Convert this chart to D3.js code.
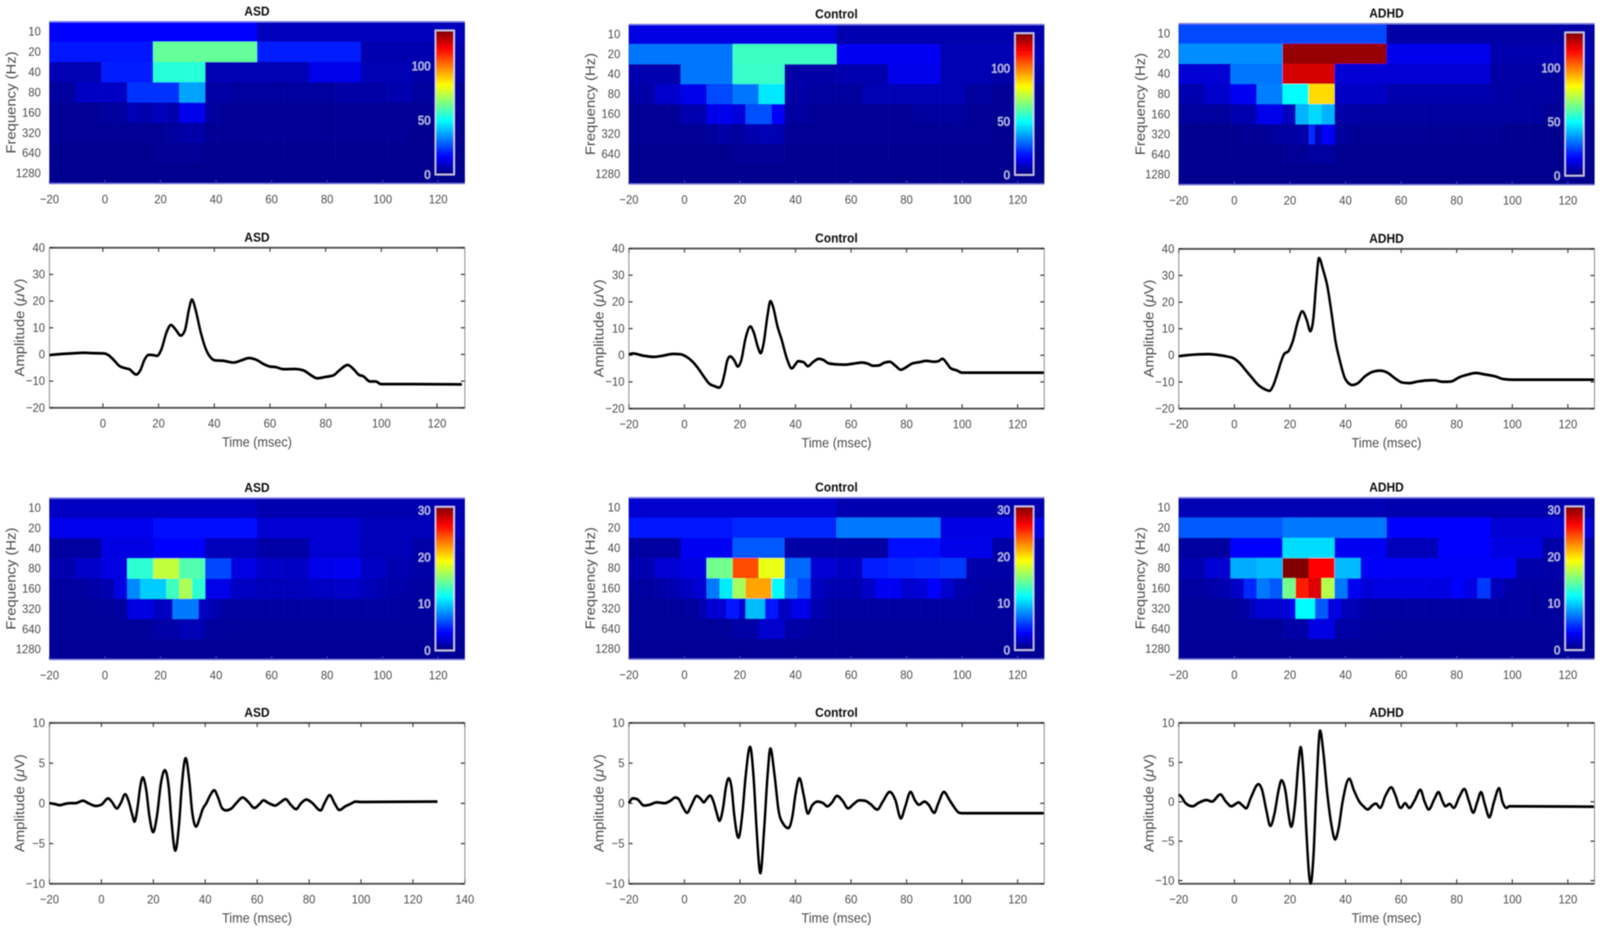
<!DOCTYPE html>
<html><head><meta charset="utf-8">
<script src="https://cdnjs.cloudflare.com/ajax/libs/d3/7.8.5/d3.min.js"></script>
<style>
html,body{margin:0;padding:0;background:#fff;overflow:hidden;width:100%;height:100%}
svg{display:block;width:100vw;height:100vh}
text{font-family:"Liberation Sans",Arial,sans-serif}
</style></head><body>
<svg id="c" viewBox="0 0 4545 2387" preserveAspectRatio="none"><defs><filter id="soft" x="-5%" y="-10%" width="110%" height="120%"><feGaussianBlur stdDeviation="1.6"/></filter></defs></svg>
<script>
// ---------- labels and ticks ----------
const groups = ["ASD","Control","ADHD"];
const freqLabels = ["10","20","40","80","160","320","640","1280"];
const timeTicks = [-20,0,20,40,60,80,100,120];
const timeTicks140 = [-20,0,20,40,60,80,100,120,140];
const timeTicksNoFirst = [0,20,40,60,80,100,120];
const ampTicksTop = [-20,-10,0,10,20,30,40];
const ampTicksBottom = [-10,-5,0,5,10];
const cbTicksTop = [0,50,100];
const cbTicksBottom = [0,10,20,30];
const cbMaxTop = 133;
const cbMaxBottom = 30.8;

// ---------- scalogram power, one list per frequency row (row length = time resolution) ----------
const heatASDTop = [
 [17,8],
 [19,63,20,6],
 [7,20,55,7,7,14,7,5],
 [4,9,9,23,23,38,5,4, 4,4,4,5,5,6,4,3],
 [3,3,3,3,4,4,7,6, 8,6,14,14,4,3,3,3, 3,3,3,3,3,3,3,3, 3,3,3,3,3,3,3,3],
 [3,3,3,3,3,3,3,3, 3,4,5,5,3,3,3,3, 3,3,3,3,3,3,3,3, 3,3,3,3,2,2,2,2],
 [2,2,2,2,3,3,2,2, 2,2,2,2,2,2,2,2],
 [2,2,2,2]
];
const heatControlTop = [
 [13,6],
 [32,58,15,7],
 [6,32,57,5,6,14,7,5],
 [5,10,14,26,32,47,5,4, 4,7,7,7,7,4,3,3],
 [3,3,3,3,6,6,14,14, 12,27,27,16,4,4,3,3, 3,3,3,3,3,3,4,4, 4,4,3,3,3,3,3,3],
 [3,3,3,3,3,3,4,5, 4,6,7,6,3,3,3,3, 3,3,3,3,3,3,3,3, 3,3,3,3,2,2,2,2],
 [2,2,2,2,3,3,2,2, 2,2,2,2,2,2,2,2],
 [2,2,2,2]
];
const heatADHDTop = [
 [26,5],
 [35,130,14,6],
 [11,32,122,11,11,11,5,4],
 [6,10,15,33,50,88,9,9, 6,6,6,6,5,4,4,4],
 [4,4,4,4,6,6,14,14, 8,40,45,40,5,5,4,4, 4,4,4,4,4,4,4,4, 4,4,4,4,3,3,3,3],
 [2,2,2,2,2,2,2,2, 2,3,3,3,3,3,4,4, 4,4,5,5,22,7,16,16, 4,4,3,3,3,3,3,3,
  3,3,3,3,3,3,3,3, 3,3,3,3,3,3,3,3, 3,3,2,2,2,2,2,2, 2,2,2,2,2,2,2,2],
 [2,2,2,2,3,4,2,2, 2,2,2,2,2,2,2,2],
 [2,2,2,2]
];
const heatASDBottom = [
 [2,1.5],
 [3.3,4.2,2.5,1.8],
 [1,3,4,1.8,1.2,2.5,1.7,1.2],
 [1.5,2.2,3,12.9,17.4,14,6,3, 2.2,2,3.2,3.5,2,1.5,1.2,1.1],
 [1,1,1,1.2,1.5,3,8,10, 10,13.5,16.7,12.9,3.2,3.2,2,2, 1.7,1.7,1.7,1.7,2,2,2.2,2.2, 1.8,1.5,1.3,1.2,1,1,1,1],
 [.8,.8,.8,.8,.8,.8,.8,.8, .9,.9,1,1,3,3,3,3, 2,2,2,7.5,7.5,7.5,7.5,2, 1.8,1.5,1.2,1,1,1,1,1,
  1,1,1,1,1,1,1,1, 1,1,1,1,1,1,1,1, 1,1,1,1,1,1,.9,.9, .9,.9,.8,.8,.8,.8,.8,.8],
 [.8,.8,.8,.8,1.2,1.6,.9,.8, .8,.8,.8,.8,.8,.8,.8,.8],
 [.7,.7,.7,.7]
];
const heatControlBottom = [
 [2.4,1.5],
 [4.5,5,7.5,3],
 [1,3.5,6.5,1.2,1.1,4.3,3.2,1.2],
 [1.5,2.5,3,15,24.7,18.6,7,2.5, 2,4.8,5,5.2,5.5,1.3,1.2,1],
 [1,1,1.2,1.5,2,2.5,7.5,11, 16.5,22,22,11.5,7.5,6,2,1.5, 1.5,1.5,2.2,3.5,3.5,2.4,2.6,4, 2.4,1.5,1.2,1,1,1,1,1],
 [.8,.8,.8,.8,.8,.8,.8,.8, .9,.9,1,1.5,2.5,2.5,2.5,4.5, 4.5,2.5,9.5,9.5,9.5,4.5,4.5,2, 2,3.2,3.2,3.2,1.5,1.5,1.2,1,
  1,1,1,1,1,1,1,1, 1,1,1,1,1,1,1,1, 1,1,1,1,1,1,.9,.9, .9,.9,.8,.8,.8,.8,.8,.8],
 [.8,.8,.8,.8,1.2,2.4,1.2,.9, .8,.8,.8,.8,.8,.8,.8,.8],
 [.7,.7,.7,.7]
];
const heatADHDBottom = [
 [1.6,1.4],
 [6.5,7.5,4,2.5],
 [1,4,10.5,3.5,1.8,3.8,3,1.2],
 [1.5,2.5,9,9.5,31,27,9.5,3.6, 3.6,3.6,3.6,3.6,3.6,1.3,1.2,1.1],
 [1,1,1.2,1.5,2.2,5,7.5,6.5, 15,26,28,17,7.5,3.5,2.6,3, 3,3,3,3,3,4,3,5.5, 1.8,1.2,1,1,1,1,1,1],
 [.8,.8,.8,.8,.8,.8,.8,.8, .9,1,1.2,2,2.5,2.5,2.5,2.5, 2.5,3.5,11.5,11.5,11.5,6.5,6.5,3, 3,1.8,1.8,1.5,1.2,1,1,1,
  1,1,1,1,1,1,1,1, 1,1,1,1,1,1,1,1, 1,1,1,1,1,1,.9,.9, .9,.9,.8,.8,.8,.8,.8,.8],
 [.8,.8,.8,.8,1.2,3,1.2,.9, .8,.8,.8,.8,.8,.8,.8,.8],
 [.7,.7,.7,.7]
];

// ---------- waveforms: time (msec) and amplitude (uV) ----------
const tASDTop = [-19.2,-15,-10,-7,-3,.5,2,4,6,8,9.5,12,13.5,15,16.5,18.5,19.5,21,23,24.5,26,28,29.5,31,32,33.5,35,37,39,40.5,43,47,50,52.5,55,58,60,62,65,69,72,75,77,80,83,85,88,90,92,93.5,96,98,100,110,129];
const vASDTop = [-.3,.1,.4,.55,.4,.3,-.3,-2.2,-4.4,-5.2,-5.6,-7.6,-6,-2,-.2,-.4,-.6,1.7,8.5,11,9.5,7,9,17,20.5,16,9,2,-1.5,-2.3,-2.4,-3.1,-2.2,-1.4,-2,-3.8,-4.6,-4.8,-5.6,-5.5,-6,-8,-9,-8.5,-7.8,-6,-4,-5.5,-7.7,-8.2,-10.2,-10.2,-11.2,-11.2,-11.3];
const tControlTop = [-20,-18.5,-15,-11,-8,-4,-1.5,1,3,5,7,9,11,12.5,13.5,14.5,15.5,16.5,18,19.3,20.5,22,23.8,25,26.5,27.5,28.5,30,31,32,33.5,35,37,38.7,40,41,43,44.5,46.5,48.5,50,52,55,58,61,64,66,68,70,72,74,76,78,80,82,85,87,90,91.5,93,94.5,96,98,100,129.5];
const vControlTop = [.2,.6,-.2,-.7,-.3,.4,.3,-.8,-2.5,-5,-8,-10.7,-11.7,-12.2,-11,-7,-2,-.5,-2,-4.3,-2,6,10.7,8.5,3,.7,4,15,20.2,18,11,6,-1.5,-5,-3.5,-2.3,-2.7,-4.2,-2.5,-1.4,-1.8,-3.1,-3.5,-3.6,-3.2,-2.8,-3.2,-4,-3.9,-2.9,-2.5,-4,-5.5,-4.5,-3.2,-2.6,-2.2,-2.5,-2.3,-1.4,-3,-5,-5.7,-6.6,-6.6];
const tADHDTop = [-20,-17,-13,-9,-6,-3,0,2,4,6,9,11,12.7,14,15.5,17,18,19.5,21,23,24.5,26,27.4,28.5,29.5,30.5,32,33.5,35,36.5,38,40,42.5,44.5,47,50,52.5,55,58,60.5,63,66,69,72,75,78,81,84,87,90,94,97,100,129.5];
const vADHDTop = [-.4,0,.3,.4,.1,-.4,-1.3,-3,-5.5,-8,-11.5,-12.8,-13.4,-11.5,-7,-2,.5,1.5,5,13,16.5,13.5,9,14,27,36.5,32,26,16,5,-2,-9,-11.2,-10.5,-8,-6.2,-5.8,-6.5,-8.8,-10.3,-10.5,-9.9,-9.5,-9.4,-10,-9.9,-8.3,-7.3,-6.7,-7.2,-8,-9,-9.2,-9.2];
const tASDBottom = [-20,-18,-16,-14,-12,-10,-7,-5,-2,0,2.7,4,6,7.5,9.2,10.5,12,12.8,14,15,16,17.3,18.5,20,21.5,23,24.5,26,27,28.5,30,31,32.5,34,35,36.5,38,39,40.5,42,43.5,45,46.5,48,50,52,54.5,56.5,59,61,62.5,64.5,67,69,71,73,75,77,79,81,84.5,86,88,90,91.7,94,96,98,100,129.5];
const vASDBottom = [0,-.1,-.25,-.1,0,0,.3,0,-.35,-.2,.6,.2,-.65,0,1.1,.3,-1.5,-2.3,-.5,2,3.2,1.7,-1.5,-3.6,-1.5,2.5,4.1,2,-2,-5.9,-2.5,2,5.6,2.5,-1,-2.9,-1.8,-.8,0,1,1.6,.7,-.6,-.9,-.7,0,.7,.2,-.6,-.1,.35,0,-.3,.1,.5,-.2,-.75,0,.45,.1,-.9,0,1,-.1,-.85,-.4,-.1,.2,.15,.2];
const tControlBottom = [-20,-18.5,-17,-14.5,-12.5,-10,-7,-5,-3.2,-2,-.5,1,2.5,4.5,6,7,8,9.3,10.5,11.5,12.7,14,15,16,17,18,19.5,21,22,23.7,25,26,27.4,28.8,30,31,32.5,34,35.5,37.5,39,40,41.5,43,44.5,46,48,50,51.5,53,55,57,59,61,63,65,67,69.5,71.5,74,76,78,79.5,81.5,83,84.5,86.5,88,90,91.5,93.5,95.5,97,99,100,129.5];
const vControlBottom = [0,.6,.5,-.3,-.2,.1,0,.3,.7,.5,-.5,-1.2,-.3,.9,.5,.1,.5,.95,.2,-1,-2.2,-.5,2,3.1,2,-1.5,-4.3,-1,3,7,3,-3,-8.7,-3,3.5,6.8,3.5,-1,-2.5,-3.1,-1.5,1,3.1,1,-1.3,-.3,.2,0,-.4,0,.9,.3,-.65,-.1,.35,.3,-.1,-.8,.2,1.4,.4,-1.9,-.5,1.4,.4,-.2,.2,-.2,-1.2,0,1.4,.4,-.4,-1.2,-1.25,-1.25];
const tADHDBottom = [-20,-19,-17.5,-15,-13,-10,-8,-5,-3,-1,.5,1.5,3,4.3,6,8.7,10,11.5,13,14.5,16,17,18.5,19.5,20.5,22,23,23.9,25,26,27,27.5,28.5,29.5,30.9,32,33.5,35,36.3,37.5,39,41.4,43,45,46.5,48,50,51,52.5,54.5,56.5,58,59.5,60,61.5,63,65,67,68.5,70,72,73.5,75,76,77.5,79,81,82.8,84.5,86,87.5,88.8,90.3,91.8,93.5,95.3,96.5,98,99,129.5];
const vADHDBottom = [.9,.6,-.2,-.6,-.2,.2,0,.9,0,-.6,-.3,-.1,-.5,-.85,.5,2.2,1.5,-1,-3.1,-1.5,1.5,2.7,1.2,-1.5,-3.2,0,4.5,6.9,3,-4,-9.5,-10.4,-7,1,9,6.5,1,-3,-4.8,-3.5,0,2.9,1.5,0,-.6,-1,-.4,-.25,-.8,.8,1.8,.8,-.7,-.8,-.2,-.8,.2,1.5,0,-1,.3,1.2,0,-.6,-.3,-.8,.6,1.6,0,-1.4,0,1.2,-.5,-2,0,1.7,0,-.8,-.6,-.65];

// ---------- layout ----------
const colX = [[140,1320],[1786,2966],[3348,4529]];
const heatTopY = [[55,470],[62,471],[60,473]];
const lineTopY = [[634,1044],[636,1046],[637,1046]];
const heatBotY = [[1275,1689],[1274,1688],[1274,1688]];
const lineBotY = [[1851,2263],[1851,2263],[1851,2263]];
const TICK = 32, LABEL = 37, TITLE = 34, GREY = "#4d4d4d";

const jetInterp = t => {
  const c = v => Math.round(255*Math.max(0,Math.min(1,v)));
  return `rgb(${c(1.5-Math.abs(4*t-3))},${c(1.5-Math.abs(4*t-2))},${c(1.5-Math.abs(4*t-1))})`;
};
const svg = d3.select("#c");

function title(g,txt,x0,x1,y0){
  g.append("text").attr("x",(x0+x1)/2).attr("y",y0-15).attr("text-anchor","middle")
   .attr("font-size",TITLE).attr("font-weight","bold").attr("fill","#111").text(txt);
}
function styleAxis(a,opts){
  a.selectAll("text").attr("font-size",TICK).attr("fill",opts.color||GREY).style("font-family",'"Liberation Sans",Arial,sans-serif');
  a.selectAll("line").attr("stroke",opts.tick||"#444").attr("stroke-width",opts.tw||2.5);
  a.select(".domain").attr("stroke",opts.dom||"#555").attr("stroke-width",opts.dw||2.5);
}

function heat(rows,name,xr,yr,cbMax,cbTicks){
  const g = svg.append("g").attr("filter","url(#soft)");
  const x = d3.scaleLinear().domain([-20,129.6]).range(xr);
  const y = d3.scaleBand().domain(freqLabels).range(yr).paddingInner(0).paddingOuter(0);
  const color = d3.scaleSequential(jetInterp).domain([0,cbMax]).clamp(true);
  rows.forEach((row,ri)=>{
    const step = 149.6/row.length;
    g.append("g").selectAll("rect").data(row).join("rect")
      .attr("x",(d,i)=>x(-20+i*step)).attr("y",y(freqLabels[ri]))
      .attr("width",x(step)-x(0)+.6).attr("height",y.bandwidth()+.6)
      .attr("fill",d=>color(d));
  });
  const ax = g.append("g").attr("transform",`translate(0,${yr[1]})`)
    .call(d3.axisBottom(x).tickValues(timeTicks).tickSizeOuter(0).tickSizeInner(-8).tickPadding(28));
  styleAxis(ax,{tick:"#3a3ad0",dom:"#8080e8",dw:3});
  const axT = g.append("g").attr("transform",`translate(0,${yr[0]})`)
    .call(d3.axisTop(x).tickValues([]).tickSizeOuter(0));
  styleAxis(axT,{dom:"#8080e8",dw:3.5});
  const ay = g.append("g").attr("transform",`translate(${xr[0]},0)`)
    .call(d3.axisLeft(y).tickSize(0).tickPadding(24));
  styleAxis(ay,{dom:"#2020a0",dw:1});
  g.append("text").attr("transform",`translate(${xr[0]-109},${(yr[0]+yr[1])/2}) rotate(-90)`)
    .attr("dy",".35em").attr("text-anchor","middle").attr("font-size",LABEL+1).attr("fill",GREY).text("Frequency (Hz)");
  title(g,name,xr[0],xr[1],yr[0]);
  // colour bar
  const cb = d3.scaleLinear().domain([0,cbMax]).range([yr[1]-23,yr[0]+23]);
  const cx0 = xr[1]-83, cw = 53, levels = d3.range(64);
  g.append("g").selectAll("rect").data(levels).join("rect")
    .attr("x",cx0).attr("width",cw)
    .attr("y",d=>cb((d+1)/64*cbMax)).attr("height",d=>cb(d/64*cbMax)-cb((d+1)/64*cbMax)+.6)
    .attr("fill",d=>jetInterp((d+.5)/64));
  g.append("rect").attr("x",cx0).attr("y",cb(cbMax)).attr("width",cw).attr("height",cb(0)-cb(cbMax))
    .attr("fill","none").attr("stroke","#d6d0f5").attr("stroke-width",3.5);
  const cbAx = g.append("g").attr("transform",`translate(${cx0},0)`)
    .call(d3.axisLeft(cb).tickValues(cbTicks).tickFormat(d3.format("d")).tickSize(0).tickPadding(14));
  cbAx.select(".domain").remove();
  cbAx.selectAll("text").attr("font-size",TICK).attr("fill","#c8c8ff").style("font-family",'"Liberation Sans",Arial,sans-serif');
}

function wave(ts,vs,name,xr,yr,xDom,xTicks,yDom,yTicks){
  const g = svg.append("g").attr("filter","url(#soft)");
  const x = d3.scaleLinear().domain(xDom).range(xr);
  const y = d3.scaleLinear().domain(yDom).range([yr[1],yr[0]]);
  const thin = {dom:"#777",tick:"#333",tw:3,dw:2.5};
  const thick = {dom:"#5a5a5a",tick:"#333",tw:3,dw:5};
  styleAxis(g.append("g").attr("transform",`translate(0,${yr[1]})`)
    .call(d3.axisBottom(x).tickValues(xTicks).tickFormat(d3.format("d")).tickSizeOuter(0).tickSizeInner(-11).tickPadding(28)),thick);
  styleAxis(g.append("g").attr("transform",`translate(0,${yr[0]})`)
    .call(d3.axisTop(x).tickValues(xTicks).tickFormat("").tickSizeOuter(0).tickSizeInner(-11)),thick);
  styleAxis(g.append("g").attr("transform",`translate(${xr[0]},0)`)
    .call(d3.axisLeft(y).tickValues(yTicks).tickFormat(d3.format("d")).tickSizeOuter(0).tickSizeInner(-11).tickPadding(12)),thin);
  styleAxis(g.append("g").attr("transform",`translate(${xr[1]},0)`)
    .call(d3.axisRight(y).tickValues(yTicks).tickFormat("").tickSizeOuter(0).tickSizeInner(-11)),thin);
  const line = d3.line().x(d=>x(d[0])).y(d=>y(d[1])).curve(d3.curveMonotoneX);
  g.append("path").datum(ts.map((t,i)=>[t,vs[i]])).attr("d",line)
    .attr("fill","none").attr("stroke","#000").attr("stroke-width",7).attr("stroke-linejoin","round");
  const yl = g.append("text").attr("transform",`translate(${xr[0]-85},${(yr[0]+yr[1])/2}) rotate(-90)`)
    .attr("dy",".35em").attr("text-anchor","middle").attr("font-size",LABEL+1).attr("fill",GREY);
  yl.append("tspan").text("Amplitude (");
  yl.append("tspan").attr("font-style","italic").text("\u03BC");
  yl.append("tspan").text("V)");
  g.append("text").attr("x",(xr[0]+xr[1])/2).attr("y",yr[1]+100).attr("text-anchor","middle")
    .attr("font-size",LABEL-1).attr("fill",GREY).text("Time (msec)");
  title(g,name,xr[0],xr[1],yr[0]);
}

const heatTop = [heatASDTop,heatControlTop,heatADHDTop];
const heatBot = [heatASDBottom,heatControlBottom,heatADHDBottom];
const lineTop = [[tASDTop,vASDTop],[tControlTop,vControlTop],[tADHDTop,vADHDTop]];
const lineBot = [[tASDBottom,vASDBottom],[tControlBottom,vControlBottom],[tADHDBottom,vADHDBottom]];

groups.forEach((name,c)=>{
  heat(heatTop[c],name,colX[c],heatTopY[c],cbMaxTop,cbTicksTop);
  heat(heatBot[c],name,colX[c],heatBotY[c],cbMaxBottom,cbTicksBottom);
  wave(lineTop[c][0],lineTop[c][1],name,colX[c],lineTopY[c],
       c===0?[-19.2,130]:[-20,129.6], c===0?timeTicksNoFirst:timeTicks,[-20,40],ampTicksTop);
  wave(lineBot[c][0],lineBot[c][1],name,colX[c],lineBotY[c],
       c===0?[-20,140]:[-20,129.6], c===0?timeTicks140:timeTicks,
       c===2?[-10.4,10]:[-10,10],ampTicksBottom);
});
</script>
</body></html>
